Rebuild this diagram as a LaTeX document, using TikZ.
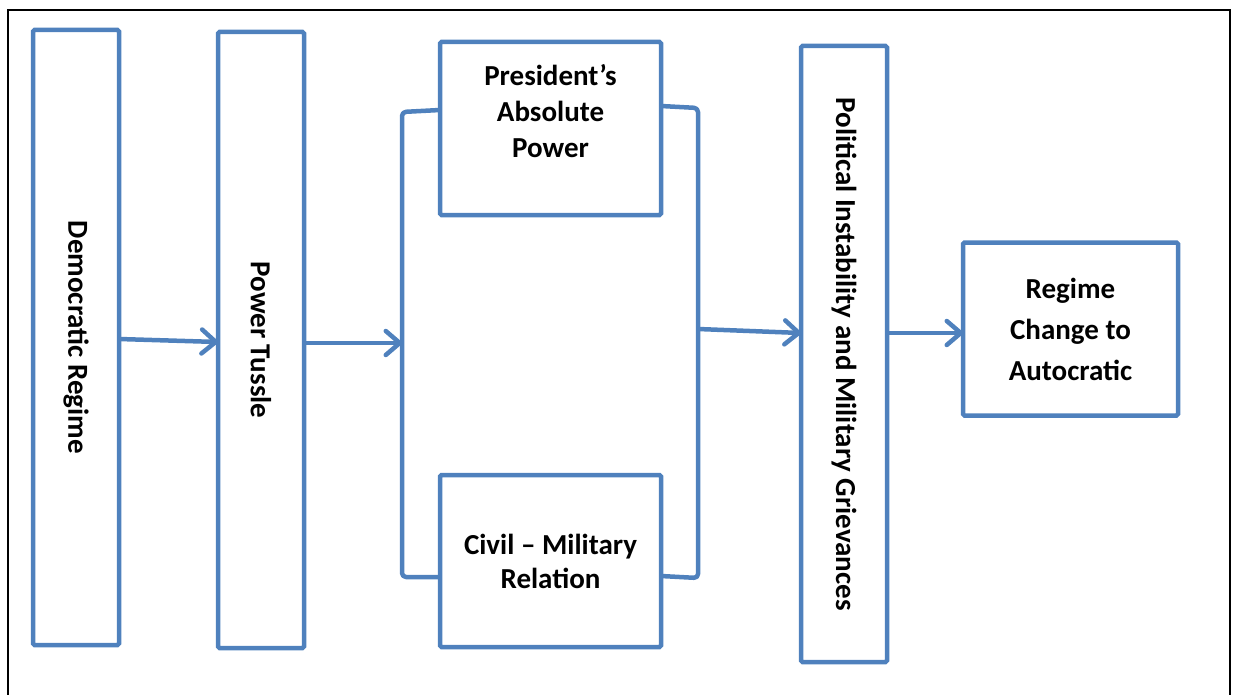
\documentclass[tikz,border=0pt]{standalone}
\usepackage{fontspec}
\setmainfont{Carlito}
\usetikzlibrary{arrows.meta}
\definecolor{boxblue}{HTML}{4F81BD}
\begin{document}
\begin{tikzpicture}[x=1pt,y=-1pt,
  box/.style={draw=boxblue, line width=4.5pt, rounded corners=1.5pt, outer sep=0pt, inner sep=0pt,
    font=\fontsize{29}{36}\selectfont\bfseries, align=center},
  conn/.style={draw=boxblue, line width=4.5pt, line join=round},
  arr/.style={conn, -{Straight Barb[length=14pt,width=24pt,line cap=round,line join=round]}},
  vtext/.style={rotate=-90, font=\fontsize{29}{36}\selectfont\bfseries}]
\useasboundingbox (0,0) rectangle (1236,695);
\draw[line width=2.5pt, line cap=rect] (8,697) -- (8,10) -- (1230,10) -- (1230,697);

\node[box, minimum width=86pt, minimum height=615pt] (dem) at (76,337.5) {};
\node[vtext] (demt) at (dem.center) {Democratic Regime};
\node[box, minimum width=86pt, minimum height=616pt] (pow) at (261,340) {};
\node[vtext] (powt) at (pow.center) {Power Tussle};
\node[box, minimum width=221pt, minimum height=173pt] (pres) at (550.5,128.5) {};
\node[anchor=center, align=center, font=\fontsize{29}{36}\selectfont\bfseries] (prest) at (550.5,111.5) {President’s\\Absolute\\Power};
\node[box, minimum width=221pt, minimum height=172pt, font=\fontsize{29}{34}\selectfont\bfseries] (civ) at (550.5,561) {Civil – Military\\Relation};
\node[box, minimum width=86pt, minimum height=616pt] (pol) at (844,354) {};
\node[vtext] (polt) at (pol.center) {Political Instability and Military Grievances};
\node[box, minimum width=215pt, minimum height=173pt, font=\fontsize{29}{41}\selectfont\bfseries] (reg) at (1070.5,329) {Regime\\Change to\\Autocratic};

\coordinate (lb) at (402,343);
\coordinate (rb) at (698,329);
\draw[conn, rounded corners=4pt] (pres.west |- 0,110) -- (402,112) -- (402,577) -- (civ.west |- 0,577);
\draw[conn, rounded corners=4pt] (pres.east |- 0,106) -- (698,108) -- (698,578) -- (civ.east |- 0,576);

\draw[arr] (dem.east |- 0,339) -- (pow.west |- 0,342);
\draw[arr] (pow.east |- 0,343) -- (lb);
\draw[arr] (rb) -- (pol.west |- 0,333);
\draw[arr] (pol.east |- 0,333) -- (reg.west |- 0,333);
\end{tikzpicture}
\end{document}
